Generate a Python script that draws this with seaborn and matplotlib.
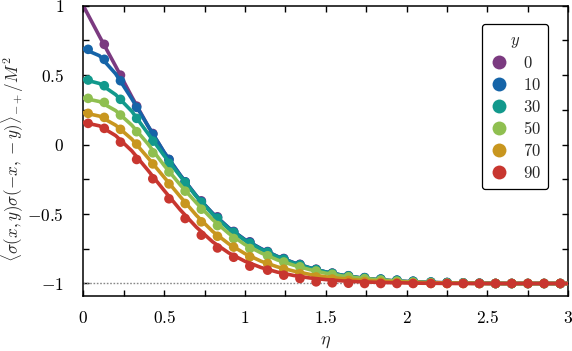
import numpy as np
import pandas as pd
import matplotlib
matplotlib.use("Agg")
import matplotlib.pyplot as plt
import seaborn as sns
from matplotlib.lines import Line2D
from matplotlib.ticker import MultipleLocator, FuncFormatter

# ---------------- data ----------------
y_values = [0, 10, 30, 50, 70, 90]
colors = ["#7b3a80", "#1564a8", "#12998c", "#8fbf50", "#c8961f", "#c8362f"]

eta_line = [0.0, 0.1, 0.2, 0.3, 0.4, 0.5, 0.6, 0.7, 0.8, 0.9, 1.0,
            1.1, 1.2, 1.3, 1.4, 1.5, 1.6, 1.7, 1.8, 1.9, 2.0,
            2.1, 2.2, 2.3, 2.4, 2.5, 2.6, 2.7, 2.8, 2.9, 3.0]

line_y0 = [1.0, 0.78, 0.565, 0.345, 0.135, -0.055, -0.22, -0.37, -0.495, -0.60, -0.685,
           -0.75, -0.805, -0.85, -0.887, -0.917, -0.94, -0.957, -0.97, -0.979, -0.986,
           -0.991, -0.994, -0.996, -0.998, -0.999, -1.0, -1.0, -1.0, -1.0, -1.0]
line_y10 = [0.69, 0.64, 0.51, 0.33, 0.135, -0.055, -0.22, -0.37, -0.495, -0.60, -0.685,
            -0.75, -0.805, -0.85, -0.887, -0.917, -0.94, -0.957, -0.97, -0.979, -0.986,
            -0.991, -0.994, -0.996, -0.998, -0.999, -1.0, -1.0, -1.0, -1.0, -1.0]
line_y30 = [0.47, 0.44, 0.36, 0.24, 0.08, -0.08, -0.228, -0.375, -0.502, -0.607, -0.69,
            -0.755, -0.808, -0.853, -0.889, -0.918, -0.941, -0.958, -0.971, -0.98, -0.987,
            -0.992, -0.995, -0.997, -0.998, -0.999, -1.0, -1.0, -1.0, -1.0, -1.0]
line_y50 = [0.335, 0.31, 0.245, 0.14, 0.005, -0.15, -0.29, -0.42, -0.54, -0.64, -0.72,
            -0.78, -0.83, -0.868, -0.9, -0.926, -0.946, -0.96, -0.971, -0.98, -0.987,
            -0.992, -0.995, -0.997, -0.998, -0.999, -1.0, -1.0, -1.0, -1.0, -1.0]
line_y70 = [0.23, 0.205, 0.14, 0.04, -0.095, -0.235, -0.375, -0.51, -0.625, -0.715, -0.785,
            -0.84, -0.88, -0.91, -0.934, -0.952, -0.965, -0.975, -0.982, -0.987, -0.991,
            -0.994, -0.996, -0.998, -0.999, -1.0, -1.0, -1.0, -1.0, -1.0, -1.0]
line_y90 = [0.16, 0.135, 0.065, -0.045, -0.185, -0.33, -0.47, -0.595, -0.70, -0.78, -0.84,
            -0.885, -0.918, -0.942, -0.96, -0.972, -0.981, -0.987, -0.991, -0.994, -0.996,
            -0.998, -0.999, -1.0, -1.0, -1.0, -1.0, -1.0, -1.0, -1.0, -1.0]

eta_pts = [0.03, 0.13, 0.23, 0.33, 0.43, 0.53, 0.63, 0.73, 0.83, 0.93,
           1.03, 1.14, 1.24, 1.34, 1.44, 1.54, 1.64, 1.74, 1.84, 1.94,
           2.04, 2.15, 2.25, 2.35, 2.45, 2.55, 2.65, 2.75, 2.85, 2.95]

pts_y0 = [np.nan, 0.722, 0.50, 0.277, 0.08, -0.107, -0.268, -0.405, -0.52, -0.625,
          -0.70, -0.77, -0.82, -0.862, -0.897, -0.925, -0.944, -0.958, -0.969, -0.977,
          -0.984, -0.99, -0.993, -0.996, -0.998, -1.0, -1.0, -1.0, -1.0, -1.0]
pts_y10 = [0.686, 0.614, 0.46, 0.268, 0.075, -0.107, -0.268, -0.41, -0.525, -0.628,
           -0.703, -0.772, -0.822, -0.864, -0.9, -0.927, -0.946, -0.958, -0.968, -0.976,
           -0.984, -0.99, -0.993, -0.996, -0.998, -1.0, -1.0, -1.0, -1.0, -1.0]
pts_y30 = [0.465, 0.424, 0.326, 0.189, 0.025, -0.135, -0.272, -0.415, -0.53, -0.632,
           -0.71, -0.775, -0.826, -0.866, -0.9, -0.927, -0.946, -0.96, -0.97, -0.978,
           -0.985, -0.99, -0.994, -0.996, -0.998, -1.0, -1.0, -1.0, -1.0, -1.0]
pts_y50 = [0.333, 0.304, 0.213, 0.093, -0.059, -0.197, -0.335, -0.465, -0.583, -0.676,
           -0.748, -0.80, -0.845, -0.88, -0.91, -0.934, -0.952, -0.965, -0.975, -0.983,
           -0.99, -0.994, -0.997, -0.998, -1.0, -1.0, -1.0, -1.0, -1.0, -1.0]
pts_y70 = [0.225, 0.196, 0.11, 0.004, -0.139, -0.283, -0.424, -0.556, -0.66, -0.738,
           -0.808, -0.856, -0.897, -0.93, -0.953, -0.968, -0.978, -0.986, -0.991, -0.995,
           -0.997, -0.999, -1.0, -1.0, -1.0, -1.0, -1.0, -1.0, -1.0, -1.0]
pts_y90 = [0.153, 0.117, 0.018, -0.107, -0.246, -0.39, -0.532, -0.652, -0.744, -0.811,
           -0.875, -0.904, -0.94, -0.964, -0.988, -0.995, -0.998, -1.0, -1.0, -1.0,
           -1.0, -1.0, -1.0, -1.0, -1.0, -1.0, -1.0, -1.0, -1.0, -1.0]

line_series = [line_y0, line_y10, line_y30, line_y50, line_y70, line_y90]
pts_series = [pts_y0, pts_y10, pts_y30, pts_y50, pts_y70, pts_y90]

# ---------------- style ----------------
sns.set_theme(style="ticks")
plt.rcParams["font.family"] = ["DejaVu Serif"]
plt.rcParams["mathtext.fontset"] = "cm"
plt.rcParams["axes.linewidth"] = 1.1
plt.rcParams["axes.edgecolor"] = "black"

fig = plt.figure(figsize=(5.72, 3.51), dpi=100)
ax = fig.add_axes([0.1456, 0.1567, 0.848, 0.827])

ax.axhline(-1.0, color="#888888", ls=(0, (1.2, 1.2)), lw=1.0, zorder=1)

for i, (yv, c) in enumerate(zip(y_values, colors)):
    dl = pd.DataFrame({"eta": eta_line, "val": line_series[i]})
    dp = pd.DataFrame({"eta": eta_pts, "val": pts_series[i]}).dropna()
    sns.lineplot(data=dl, x="eta", y="val", color=c, lw=2.6, ax=ax,
                 estimator=None, sort=False, zorder=2 + 2 * i)
    sns.scatterplot(data=dp, x="eta", y="val", color=c, s=48, ax=ax,
                    edgecolor="none", linewidth=0, zorder=3 + 2 * i)

ax.set_xlim(0, 3)
ax.set_ylim(-1.09, 1.0)

def fmt(v, pos):
    if abs(v - round(v)) < 1e-9:
        s = "%d" % round(v)
    else:
        s = ("%g" % v)
    return "$" + s + "$"

ax.xaxis.set_major_locator(MultipleLocator(0.5))
ax.xaxis.set_minor_locator(MultipleLocator(0.25))
ax.yaxis.set_major_locator(MultipleLocator(0.5))
ax.yaxis.set_minor_locator(MultipleLocator(0.25))
ax.xaxis.set_major_formatter(FuncFormatter(fmt))
ax.yaxis.set_major_formatter(FuncFormatter(fmt))
ax.tick_params(which="both", direction="in", top=True, right=True,
               length=4.5, width=1.0, colors="black", labelsize=12.5)
ax.tick_params(axis="x", which="major", pad=10)
ax.tick_params(axis="y", which="major", pad=14)

ax.set_xlabel(r"$\eta$", fontsize=13, labelpad=4)
ax.set_ylabel(r"$\langle\sigma(x,y)\sigma(-x,-y)\rangle_{-+}/M^2$", fontsize=12.3)
ax.yaxis.set_label_coords(-0.118, 0.47)

handles = [Line2D([], [], marker="o", ls="none", color=c, markersize=10,
                  markeredgewidth=0) for c in colors]
leg = ax.legend(handles, ["$%d$" % v for v in y_values], title="$y$",
                loc="upper right", bbox_to_anchor=(0.958, 0.937),
                frameon=True, fancybox=True, edgecolor="black",
                fontsize=12, title_fontsize=12, handletextpad=0.8,
                borderpad=0.45, labelspacing=0.3, handlelength=1.2,
                borderaxespad=0.0)
leg.get_frame().set_linewidth(0.9)
leg.get_frame().set_alpha(1)

fig.savefig("out.png", dpi=100)
